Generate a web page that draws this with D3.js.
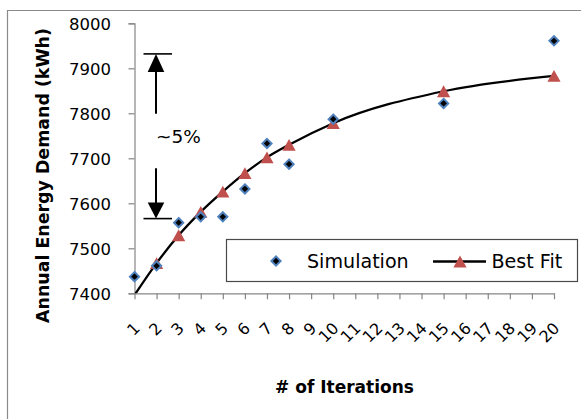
<!DOCTYPE html>
<html>
<head>
<meta charset="utf-8">
<script src="https://cdn.jsdelivr.net/npm/d3@7"></script>
<style>
  html, body { margin: 0; padding: 0; background: #fff; }
  svg { display: block; }
  text { font-family: "DejaVu Sans", sans-serif; fill: #000; }
</style>
</head>
<body>
<svg id="chart" width="581" height="419"></svg>
<script>
// Iteration counts on the category axis
const tickLabels = ["1","2","3","4","5","6","7","8","9","10","11","12","13","14","15","16","17","18","19","20"];
const yTicks = [7400, 7500, 7600, 7700, 7800, 7900, 8000];

// Simulated annual energy demand (kWh)
const simIterations = [1, 2, 3, 4, 5, 6, 7, 8, 10, 15, 20];
const simValues = [7437, 7461, 7557, 7570, 7570, 7632, 7733, 7687, 7787, 7822, 7961];

// Best-fit curve through the simulation results
const fitIterations = [1, 2, 3, 4, 5, 6, 7, 8, 10, 15, 20];
const fitValues = [7396, 7467, 7529, 7581, 7626, 7667, 7702, 7730, 7778, 7849, 7883];

// Span of the "~5%" range marker (kWh)
const spanTop = 7932;
const spanBottom = 7566;

const svg = d3.select("#chart");
const W = 581, H = 419;

// chart area frame (left and top edges fall inside the window)
svg.append("path")
  .attr("d", `M7.5,${H + 2}V10.5H${W + 2}`)
  .attr("fill", "none").attr("stroke", "#8a8a8a").attr("stroke-width", 1.2);

const plot = { left: 134.5, right: 554, top: 23.3, bottom: 293.3 };

const x = d3.scaleLinear().domain([1, 20]).range([plot.left, plot.right]);
const y = d3.scaleLinear().domain([7400, 8000]).range([plot.bottom, plot.top]);

svg.append("defs").append("clipPath").attr("id", "plotClip")
  .append("rect")
  .attr("x", plot.left).attr("y", plot.top)
  .attr("width", plot.right - plot.left).attr("height", plot.bottom - plot.top);

const axisColor = "#868686";

// y axis
const yAxis = svg.append("g")
  .attr("transform", `translate(${plot.left},0)`)
  .call(d3.axisLeft(y).tickValues(yTicks).tickSize(6).tickFormat(d3.format("d")));
yAxis.select(".domain").attr("stroke", axisColor).attr("stroke-width", 1.2);
yAxis.selectAll(".tick line").attr("stroke", axisColor).attr("stroke-width", 1.2);
yAxis.selectAll(".tick text")
  .attr("x", -23.5).attr("dy", null).attr("y", 6)
  .attr("font-size", 16.5).attr("font-family", "DejaVu Sans").attr("fill", "#000");

// x axis
const xAxis = svg.append("g")
  .attr("transform", `translate(0,${plot.bottom})`)
  .call(d3.axisBottom(x).tickValues(tickLabels.map(Number)).tickSize(6).tickSizeOuter(0)
    .tickFormat((d, i) => tickLabels[i]));
xAxis.select(".domain").attr("stroke", axisColor).attr("stroke-width", 1.2);
xAxis.selectAll(".tick line").attr("stroke", axisColor).attr("stroke-width", 1.2);
xAxis.selectAll(".tick text")
  .attr("y", null).attr("dy", null)
  .attr("text-anchor", "end")
  .attr("dominant-baseline", "central")
  .attr("transform", "translate(2,32) rotate(-45)")
  .attr("font-size", 16).attr("font-family", "DejaVu Sans").attr("fill", "#000");

// axis titles
svg.append("text")
  .attr("transform", `translate(49,175.5) rotate(-90)`)
  .attr("text-anchor", "middle")
  .attr("font-size", 17.4).attr("font-weight", "bold")
  .text("Annual Energy Demand (kWh)");

svg.append("text")
  .attr("x", 344.5).attr("y", 392.5)
  .attr("text-anchor", "middle")
  .attr("font-size", 17).attr("font-weight", "bold")
  .text("# of Iterations");

// marker shapes
const diamondPath = "M0,-4.6L4.6,0L0,4.6L-4.6,0Z";
const trianglePath = "M0,-5.9L6.6,5.9L-6.6,5.9Z";
const simColor = "#4f81bd", fitColor = "#c0504d";

const inRange = v => v >= 7400 && v <= 8000;

// best-fit curve
const fitPts = fitIterations.map((it, i) => ({ it, v: fitValues[i] }));
const plotG = svg.append("g").attr("clip-path", "url(#plotClip)");
plotG.append("path")
  .datum(fitPts)
  .attr("fill", "none").attr("stroke", "#000").attr("stroke-width", 2.3)
  .attr("d", d3.line().x(d => x(d.it)).y(d => y(d.v)).curve(d3.curveMonotoneX));

svg.append("g").selectAll("path")
  .data(fitPts.filter(d => inRange(d.v)))
  .join("path")
  .attr("d", trianglePath)
  .attr("transform", d => `translate(${x(d.it)},${y(d.v)})`)
  .attr("fill", fitColor);

// simulation points
const simPts = simIterations.map((it, i) => ({ it, v: simValues[i] }));
svg.append("g").selectAll("path")
  .data(simPts.filter(d => inRange(d.v)))
  .join("path")
  .attr("d", diamondPath)
  .attr("transform", d => `translate(${x(d.it)},${y(d.v)})`)
  .attr("fill", "#000").attr("stroke", simColor).attr("stroke-width", 2);

// "~5%" range marker
const ax = plot.left + 21.5;
const yTop = y(spanTop), yBot = y(spanBottom);
const mid = (yTop + yBot) / 2;
const ann = svg.append("g");
ann.append("line").attr("x1", ax - 12.5).attr("x2", ax + 16).attr("y1", yTop).attr("y2", yTop)
  .attr("stroke", "#000").attr("stroke-width", 1.6);
ann.append("line").attr("x1", ax - 12.5).attr("x2", ax + 16).attr("y1", yBot).attr("y2", yBot)
  .attr("stroke", "#000").attr("stroke-width", 1.6);
ann.append("path").attr("d", `M${ax},${yTop}L${ax + 8.3},${yTop + 18}L${ax - 8.3},${yTop + 18}Z`).attr("fill", "#000");
ann.append("path").attr("d", `M${ax},${yBot}L${ax + 8.3},${yBot - 16}L${ax - 8.3},${yBot - 16}Z`).attr("fill", "#000");
ann.append("line").attr("x1", ax).attr("x2", ax).attr("y1", yTop + 17).attr("y2", mid - 22.5)
  .attr("stroke", "#000").attr("stroke-width", 2);
ann.append("line").attr("x1", ax).attr("x2", ax).attr("y1", mid + 32).attr("y2", yBot - 15)
  .attr("stroke", "#000").attr("stroke-width", 2);
ann.append("text")
  .attr("x", ax).attr("y", mid + 6.8)
  .attr("font-family", "Liberation Serif, Times New Roman, serif")
  .attr("font-size", 18.5)
  .text("~5%");

// legend
const lg = svg.append("g");
lg.append("rect").attr("x", 226.5).attr("y", 239.5).attr("width", 351).attr("height", 42)
  .attr("fill", "#fff").attr("stroke", "#4a4a4a").attr("stroke-width", 1.2);
lg.append("path").attr("d", diamondPath).attr("transform", "translate(276,261)")
  .attr("fill", "#000").attr("stroke", simColor).attr("stroke-width", 2);
lg.append("text").attr("x", 307).attr("y", 268).attr("font-size", 19.1).text("Simulation");
lg.append("line").attr("x1", 433).attr("x2", 486).attr("y1", 261.5).attr("y2", 261.5)
  .attr("stroke", "#000").attr("stroke-width", 2.3);
lg.append("path").attr("d", trianglePath).attr("transform", "translate(460,261.5)").attr("fill", fitColor);
lg.append("text").attr("x", 491.5).attr("y", 268).attr("font-size", 19.1).text("Best Fit");
</script>
</body>
</html>
